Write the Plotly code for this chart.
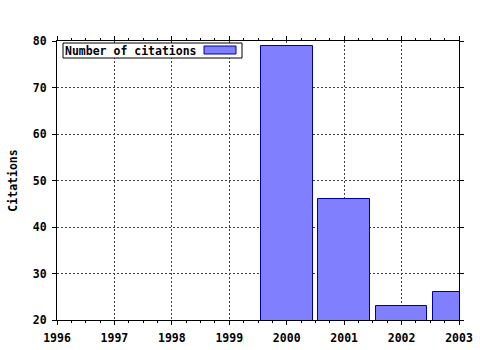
import plotly.graph_objects as go

years = [2000, 2001, 2002, 2003]
citations = [79, 46, 23, 26]
series_name = "Number of citations"
y_title = "Citations"

W, H = 480, 350
L, R, T, B = 57, 21, 41, 30
pw, ph = W - L - R, H - T - B

def px(x):
    return (x - L) / pw

def py(y):
    return 1 - (y - T) / ph

fill = "#8080ff"
edge = "#0000a0"
font = dict(family="DejaVu Sans Mono", size=11.5, color="black", weight="bold")

fig = go.Figure()
fig.add_trace(go.Bar(
    x=years, y=citations, width=0.9, name=series_name,
    marker=dict(color=fill, line=dict(color=edge, width=1)),
    showlegend=False,
))

axis_common = dict(
    showline=True, linecolor="black", linewidth=1, mirror="ticks",
    ticks="outside", ticklen=4, tickcolor="black", tickwidth=1,
    showgrid=True, gridcolor="#404040", griddash="2px,2px", gridwidth=1,
    zeroline=False, tickfont=font, automargin=False,
)

fig.update_xaxes(range=[1996, 2003], dtick=1, tick0=1996, ticklabelstandoff=3,
                 minor=dict(dtick=0.25, tick0=1996, ticks="outside", ticklen=2,
                            tickcolor="black", showgrid=False),
                 **axis_common)
fig.update_yaxes(range=[20, 80], dtick=10, tick0=20, ticklabelstandoff=3,
                 title=dict(text=y_title, font=font, standoff=12),
                 **axis_common)

# legend box (text followed by swatch, as in reference)
fig.add_shape(type="rect", xref="paper", yref="paper",
              x0=px(63), x1=px(242), y0=py(58), y1=py(43),
              line=dict(color="black", width=1), fillcolor="white")
fig.add_shape(type="rect", xref="paper", yref="paper",
              x0=px(204), x1=px(236), y0=py(54), y1=py(46),
              line=dict(color=edge, width=1), fillcolor=fill)
fig.add_annotation(text=series_name, xref="paper", yref="paper",
                   x=px(63), y=py(50.5), xanchor="left", yanchor="middle",
                   showarrow=False, font=font)

fig.update_layout(
    width=W, height=H,
    margin=dict(l=L, r=R, t=T, b=B),
    plot_bgcolor="white", paper_bgcolor="white",
    bargap=0,
)

fig.write_html("out.html")
